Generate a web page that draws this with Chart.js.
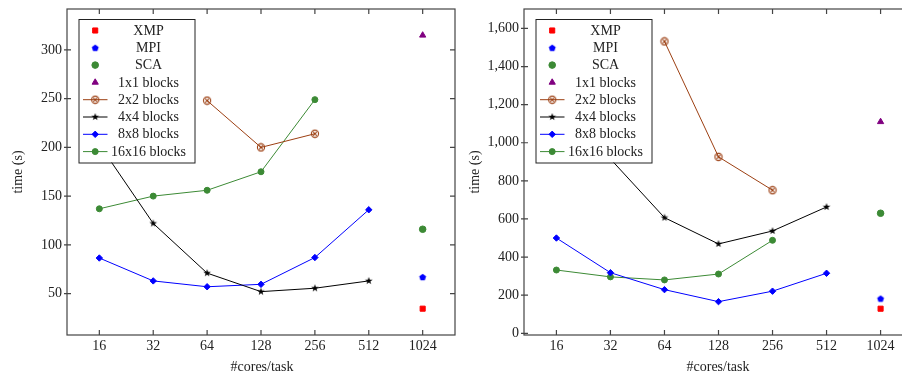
<!DOCTYPE html>
<html>
<head>
<meta charset="utf-8">
<script src="https://cdn.jsdelivr.net/npm/chart.js@4/dist/chart.umd.min.js"></script>
<style>
  body { margin: 0; background: #fff; overflow: hidden; width: 902px; height: 377px; position: relative; }
  canvas { position: absolute; top: 0; }
  #chartA { left: 0; }
  #chartB { left: 460px; }
</style>
</head>
<body>
<canvas id="chartA" width="460" height="377"></canvas>
<canvas id="chartB" width="460" height="377"></canvas>
<script>
// categories (x axis)
const cores = ['16', '32', '64', '128', '256', '512', '1024'];

// left chart values (time in s)
const xmpA = [null, null, null, null, null, null, 34.5];
const mpiA = [null, null, null, null, null, null, 67];
const scaA = [null, null, null, null, null, null, 116];
const blk1A = [null, null, null, null, null, null, 315];
const blk2A = [null, null, 248, 200, 214, null, null];
const blk4A = [203, 122, 71, 52, 55.5, 63, null];
const blk8A = [86.5, 63, 57, 59.5, 87, 136, null];
const blk16A = [137, 150, 156, 175, 249, null, null];

// right chart values (time in s)
const xmpB = [null, null, null, null, null, null, 129];
const mpiB = [null, null, null, null, null, null, 182];
const scaB = [null, null, null, null, null, null, 630];
const blk1B = [null, null, null, null, null, null, 1110];
const blk2B = [null, null, 1532, 926, 751, null, null];
const blk4B = [1200, 915, 607, 469, 537, 663, null];
const blk8B = [500, 318, 229, 166, 221, 315, null];
const blk16B = [332, 296, 280, 311, 488, null, null];

// tick labels
const yTicksA = [50, 100, 150, 200, 250, 300];
const yTicksB = [0, 200, 400, 600, 800, 1000, 1200, 1400, 1600];

const FONT = '"Liberation Serif", "DejaVu Serif", serif';
const FSIZE = 14;
const GREEN = '#3c8a35';
const BROWN = '#9c3f12';

// small canvas markers that Chart.js has no built-in style for
function makeMarker(size, drawFn) {
    const c = document.createElement('canvas');
    c.width = size; c.height = size;
    drawFn(c.getContext('2d'), size / 2);
    return c;
}
const otimes = makeMarker(10, (g, m) => {
    g.strokeStyle = BROWN;
    g.lineWidth = 1.1;
    g.beginPath();
    g.arc(m, m, 3.6, 0, Math.PI * 2);
    g.stroke();
    g.beginPath();
    g.moveTo(m - 1.8, m - 1.8); g.lineTo(m + 1.8, m + 1.8);
    g.moveTo(m + 1.8, m - 1.8); g.lineTo(m - 1.8, m + 1.8);
    g.stroke();
});
const star = makeMarker(10, (g, m) => {
    g.fillStyle = '#000';
    g.beginPath();
    for (let k = 0; k < 10; k++) {
        const r = k % 2 === 0 ? 4 : 1.6;
        const a = -Math.PI / 2 + k * Math.PI / 5;
        g.lineTo(m + r * Math.cos(a), m + r * Math.sin(a));
    }
    g.closePath();
    g.fill();
});
const pentagon = makeMarker(10, (g, m) => {
    g.fillStyle = '#0000ff';
    g.beginPath();
    for (let k = 0; k < 5; k++) {
        const a = -Math.PI / 2 + k * 2 * Math.PI / 5;
        g.lineTo(m + 3.6 * Math.cos(a), m + 0.3 + 3.6 * Math.sin(a));
    }
    g.closePath();
    g.fill();
});

function pts(arr) {
    const out = [];
    arr.forEach((v, i) => { if (v !== null) out.push({ x: i, y: v }); });
    return out;
}

function makeDatasets(d) {
    return [
        { label: 'XMP', data: pts(d.xmp), showLine: false, pointStyle: 'rect', pointRadius: 3.6, color: '#ff0000' },
        { label: 'MPI', data: pts(d.mpi), showLine: false, pointStyle: pentagon, pointRadius: 4, color: '#0000ff' },
        { label: 'SCA', data: pts(d.sca), showLine: false, pointStyle: 'circle', pointRadius: 3.3, color: GREEN },
        { label: '1x1 blocks', data: pts(d.b1), showLine: false, pointStyle: 'triangle', pointRadius: 3.6, color: '#800080' },
        { label: '2x2 blocks', data: pts(d.b2), showLine: true, pointStyle: otimes, pointRadius: 4, color: BROWN },
        { label: '4x4 blocks', data: pts(d.b4), showLine: true, pointStyle: star, pointRadius: 4, color: '#000000' },
        { label: '8x8 blocks', data: pts(d.b8), showLine: true, pointStyle: 'rectRot', pointRadius: 3.2, color: '#0000ff' },
        { label: '16x16 blocks', data: pts(d.b16), showLine: true, pointStyle: 'circle', pointRadius: 3, color: GREEN }
    ].map(ds => Object.assign(ds, {
        borderColor: ds.color,
        backgroundColor: ds.color,
        pointBackgroundColor: ds.color,
        pointBorderColor: ds.color,
        pointBorderWidth: 1,
        borderWidth: 1,
        tension: 0
    }));
}

// frame, inner ticks, axis titles and legend drawn on the canvas
const framePlugin = {
    id: 'frame',
    afterDatasetsDraw(chart) {
        const ctx = chart.ctx;
        const a = chart.chartArea;
        const xs = chart.scales.x, ys = chart.scales.y;
        ctx.save();
        ctx.strokeStyle = '#444';
        ctx.lineWidth = 1.2;
        ctx.strokeRect(a.left, a.top, a.right - a.left, a.bottom - a.top);
        ctx.beginPath();
        xs.ticks.forEach(t => {
            const x = xs.getPixelForValue(t.value);
            ctx.moveTo(x, a.bottom); ctx.lineTo(x, a.bottom - 5);
            ctx.moveTo(x, a.top); ctx.lineTo(x, a.top + 5);
        });
        ys.ticks.forEach(t => {
            const y = ys.getPixelForValue(t.value);
            ctx.moveTo(a.left - 3, y); ctx.lineTo(a.left + 4, y);
            ctx.moveTo(a.right, y); ctx.lineTo(a.right - 5, y);
        });
        ctx.stroke();

        // axis titles
        ctx.fillStyle = '#222';
        ctx.font = FSIZE + 'px ' + FONT;
        ctx.textAlign = 'center';
        ctx.textBaseline = 'middle';
        ctx.fillText('#cores/task', chart.options.plugins.frame.xTitleX, 367);
        ctx.save();
        ctx.translate(chart.options.plugins.frame.titleX, (a.top + a.bottom) / 2);
        ctx.rotate(-Math.PI / 2);
        ctx.fillText('time (s)', 0, 0);
        ctx.restore();

        // legend
        const bx = a.left + 11.5, by = a.top + 10, bw = 116, bh = 143.5;
        ctx.fillStyle = '#fff';
        ctx.fillRect(bx, by, bw, bh);
        ctx.strokeStyle = '#222';
        ctx.lineWidth = 1;
        ctx.strokeRect(bx + 0.5, by + 0.5, bw, bh);
        chart.data.datasets.forEach((ds, i) => {
            const y = by + 11.5 + i * 17.3;
            if (ds.showLine) {
                ctx.strokeStyle = ds.color;
                ctx.lineWidth = 1;
                ctx.beginPath();
                ctx.moveTo(bx + 4.5, y); ctx.lineTo(bx + 29, y);
                ctx.stroke();
            }
            ctx.fillStyle = ds.color;
            ctx.strokeStyle = ds.color;
            ctx.lineWidth = ds.pointBorderWidth;
            if (Chart.helpers && Chart.helpers.drawPoint) {
                Chart.helpers.drawPoint(ctx, { pointStyle: ds.pointStyle, radius: ds.pointRadius, rotation: 0, borderWidth: ds.pointBorderWidth }, bx + 16.7, y);
            } else {
                ctx.beginPath(); ctx.arc(bx + 16.7, y, 3, 0, Math.PI * 2); ctx.fill();
            }
            ctx.fillStyle = '#222';
            ctx.font = FSIZE + 'px ' + FONT;
            ctx.textAlign = 'center';
            ctx.textBaseline = 'middle';
            ctx.fillText(ds.label, bx + 70, y + 0.5);
        });
        ctx.restore();
    }
};

function buildChart(id, d, yTicks, yMin, yMax, yWidth, padRight, titleX, xTitleX) {
    return new Chart(document.getElementById(id), {
        type: 'scatter',
        data: { datasets: makeDatasets(d) },
        options: {
            responsive: false,
            animation: false,
            devicePixelRatio: 1,
            layout: { padding: { top: 9, right: padRight, bottom: 0, left: 0 } },
            plugins: {
                legend: { display: false },
                tooltip: { enabled: false },
                frame: { titleX: titleX, xTitleX: xTitleX }
            },
            scales: {
                x: {
                    type: 'linear',
                    min: -0.6,
                    max: 6.6,
                    grid: { display: false, drawTicks: false },
                    border: { display: false },
                    afterFit: s => { s.height = 42; s.paddingLeft = 0; s.paddingRight = 0; },
                    afterBuildTicks: s => { s.ticks = cores.map((c, i) => ({ value: i })); },
                    ticks: {
                        padding: 3,
                        color: '#222',
                        font: { family: FONT, size: FSIZE },
                        callback: v => cores[v]
                    }
                },
                y: {
                    type: 'linear',
                    min: yMin,
                    max: yMax,
                    grid: { display: false, drawTicks: false },
                    border: { display: false },
                    afterFit: s => { s.width = yWidth; s.paddingTop = 0; s.paddingBottom = 0; },
                    afterBuildTicks: s => { s.ticks = yTicks.map(v => ({ value: v })); },
                    ticks: {
                        padding: 5,
                        color: '#222',
                        font: { family: FONT, size: FSIZE },
                        callback: v => v.toLocaleString('en-US')
                    }
                }
            }
        },
        plugins: [framePlugin]
    });
}

buildChart('chartA',
    { xmp: xmpA, mpi: mpiA, sca: scaA, b1: blk1A, b2: blk2A, b4: blk4A, b8: blk8A, b16: blk16A },
    yTicksA, 7.5, 342, 67, 5, 18, 262);

buildChart('chartB',
    { xmp: xmpB, mpi: mpiB, sca: scaB, b1: blk1B, b2: blk2B, b4: blk4B, b8: blk8B, b16: blk16B },
    yTicksB, -9, 1702, 64, 7, 15, 258);
</script>
</body>
</html>
